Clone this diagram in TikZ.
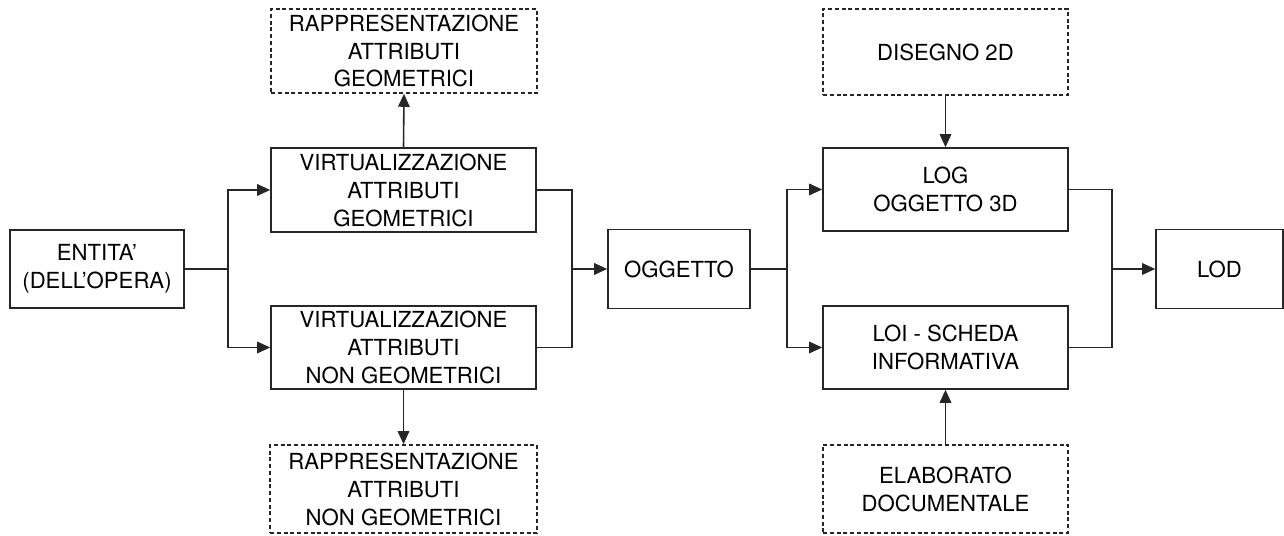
\documentclass[tikz,border=0pt]{standalone}
\usepackage{fontspec}
\setmainfont{TeX Gyre Heros}
\usetikzlibrary{arrows.meta}
\tikzset{
  box/.style={draw=black!85, line width=0.9pt, align=center, inner sep=0pt,
    font=\fontsize{12.6pt}{15.9pt}\selectfont},
  dashbox/.style={box, dash pattern=on 0.8mm off 0.55mm},
  link/.style={draw=black!85, line width=0.9pt},
  arr/.style={link, -{Triangle[length=2.6mm,width=2.3mm]}}
}
\begin{document}
\begin{tikzpicture}
\useasboundingbox (0,0) rectangle (25.68,10.72);
% boxes
\node[box, minimum width=3.48cm, minimum height=1.56cm] (entita) at (1.94,5.34) {ENTITA'\\(DELL'OPERA)};
\node[box, minimum width=5.30cm, minimum height=1.68cm] (virtgeo) at (8.07,6.92) {VIRTUALIZZAZIONE\\ATTRIBUTI\\GEOMETRICI};
\node[box, minimum width=5.30cm, minimum height=1.66cm] (virtnon) at (8.07,3.77) {VIRTUALIZZAZIONE\\ATTRIBUTI\\NON GEOMETRICI};
\node[dashbox, minimum width=5.32cm, minimum height=1.68cm] (rappgeo) at (8.08,9.70) {RAPPRESENTAZIONE\\ATTRIBUTI\\GEOMETRICI};
\node[dashbox, minimum width=5.34cm, minimum height=1.76cm] (rappnon) at (8.07,0.94) {RAPPRESENTAZIONE\\ATTRIBUTI\\NON GEOMETRICI};
\node[box, minimum width=2.84cm, minimum height=1.58cm] (oggetto) at (13.58,5.34) {OGGETTO};
\node[box, minimum width=4.90cm, minimum height=1.66cm] (log) at (18.91,6.93) {LOG\\OGGETTO 3D};
\node[box, minimum width=4.90cm, minimum height=1.66cm] (loi) at (18.91,3.77) {LOI - SCHEDA\\INFORMATIVA};
\node[dashbox, minimum width=4.90cm, minimum height=1.72cm] (disegno) at (18.91,9.68) {DISEGNO 2D};
\node[dashbox, minimum width=4.90cm, minimum height=1.76cm] (elab) at (18.91,0.94) {ELABORATO\\DOCUMENTALE};
\node[box, minimum width=2.54cm, minimum height=1.58cm] (lod) at (24.39,5.34) {LOD};
% branch points
\coordinate (b1) at (4.56,5.34);
\coordinate (j1) at (11.44,5.34);
\coordinate (b2) at (15.74,5.34);
\coordinate (j2) at (22.24,5.34);
% connectors
\draw[link] (entita.east) -- (b1);
\draw[arr] (b1) |- (virtgeo.west);
\draw[arr] (b1) |- (virtnon.west);
\draw[link] (virtgeo.east) -| (j1);
\draw[link] (virtnon.east) -| (j1);
\draw[arr] (j1) -- (oggetto.west);
\draw[arr] (virtgeo.north) -- (rappgeo.south);
\draw[arr] (virtnon.south) -- (rappnon.north);
\draw[link] (oggetto.east) -- (b2);
\draw[arr] (b2) |- (log.west);
\draw[arr] (b2) |- (loi.west);
\draw[link] (log.east) -| (j2);
\draw[link] (loi.east) -| (j2);
\draw[arr] (j2) -- (lod.west);
\draw[arr] (disegno.south) -- (log.north);
\draw[arr] (elab.north) -- (loi.south);
\end{tikzpicture}
\end{document}
